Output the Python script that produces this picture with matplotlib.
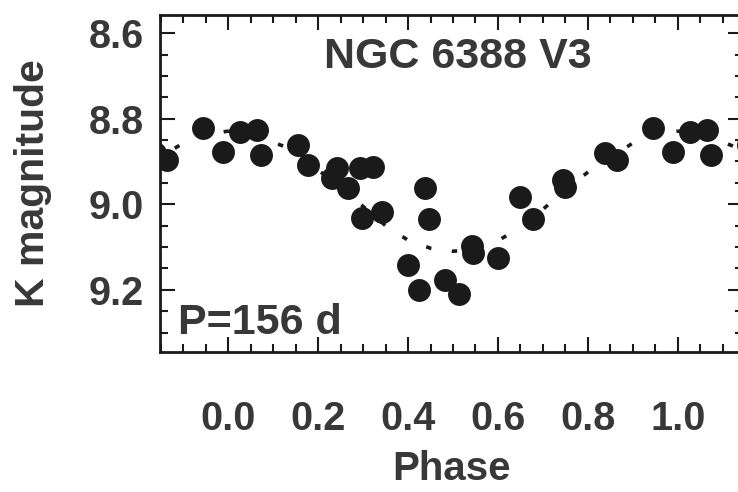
import numpy as np
import matplotlib
matplotlib.use("Agg")
import matplotlib.pyplot as plt
from matplotlib.ticker import MultipleLocator

# observed phase / K magnitude
phase = [0.864, 0.944, 0.989, 0.027, 0.064, 0.073, 0.156, 0.178, 0.231, 0.242,
         0.267, 0.293, 0.322, 0.298, 0.342, 0.438, 0.447, 0.400, 0.424, 0.482,
         0.513, 0.542, 0.544, 0.600, 0.649, 0.678, 0.744, 0.749, 0.838]
kmag = [8.897, 8.822, 8.878, 8.832, 8.827, 8.885, 8.862, 8.909, 8.939, 8.916,
        8.963, 8.916, 8.913, 9.033, 9.019, 8.963, 9.035, 9.143, 9.201, 9.178,
        9.211, 9.098, 9.115, 9.126, 8.984, 9.035, 8.944, 8.960, 8.881]

# fitted light curve
fit_phase = [0.00, 0.05, 0.10, 0.15, 0.20, 0.25, 0.30, 0.35, 0.40, 0.45, 0.50,
             0.55, 0.60, 0.65, 0.70, 0.75, 0.80, 0.85, 0.90, 0.95, 1.00]
fit_mag = [8.829, 8.835, 8.855, 8.875, 8.920, 8.960, 9.005, 9.050, 9.084, 9.103,
           9.110, 9.105, 9.085, 9.055, 9.012, 8.965, 8.925, 8.890, 8.857, 8.838,
           8.829]

xticks = [0.0, 0.2, 0.4, 0.6, 0.8, 1.0]
yticks = [8.6, 8.8, 9.0, 9.2]

txt = "#383838"
plt.rcParams['font.family'] = ['Liberation Sans', 'DejaVu Sans']
plt.rcParams['font.weight'] = 'bold'

fig = plt.figure(figsize=(7.38, 4.92), dpi=100)
ax = fig.add_axes([0.217, 0.285, 0.79, 0.685])

ph = np.array(phase)
km = np.array(kmag)
fp = np.array(fit_phase)
fm = np.array(fit_mag)
for off in (-1, 0, 1):
    ax.plot(fp + off, fm, color="#1a1a1a", lw=2.6, ls=(0, (1.5, 5.7)),
            dash_capstyle="butt", zorder=2)
    ax.plot(ph + off, km, "o", color="#1a1a1a", ms=16.5, mec="none", zorder=3)

ax.set_xlim(-0.151, 1.145)
ax.set_ylim(9.345, 8.557)

ax.set_xticks(xticks)
ax.set_yticks(yticks)
ax.xaxis.set_minor_locator(MultipleLocator(0.05))
ax.yaxis.set_minor_locator(MultipleLocator(0.05))
ax.tick_params(which="both", direction="in", top=True, right=True,
               width=1.5, colors="#1a1a1a", labelcolor=txt, labelsize=28.5)
ax.tick_params(which="major", length=11)
ax.tick_params(which="minor", length=6)
ax.tick_params(axis="x", pad=35)
ax.tick_params(axis="y", pad=12)
for lab in ax.get_xticklabels() + ax.get_yticklabels():
    lab.set_fontweight("bold")
for s in ax.spines.values():
    s.set_linewidth(2)
    s.set_color("#1a1a1a")

ax.set_xlabel("Phase", fontsize=29, color=txt, fontweight="bold", labelpad=8)
ax.set_ylabel("K magnitude", fontsize=29.5, color=txt, fontweight="bold", labelpad=26)

ax.text(0.51, 0.875, "NGC 6388 V3", transform=ax.transAxes, ha="center",
        va="center", fontsize=31, color=txt, fontweight="bold")
ax.text(0.03, 0.085, "P=156 d", transform=ax.transAxes, ha="left",
        va="center", fontsize=31, color=txt, fontweight="bold")

fig.savefig("out.png", dpi=100)
